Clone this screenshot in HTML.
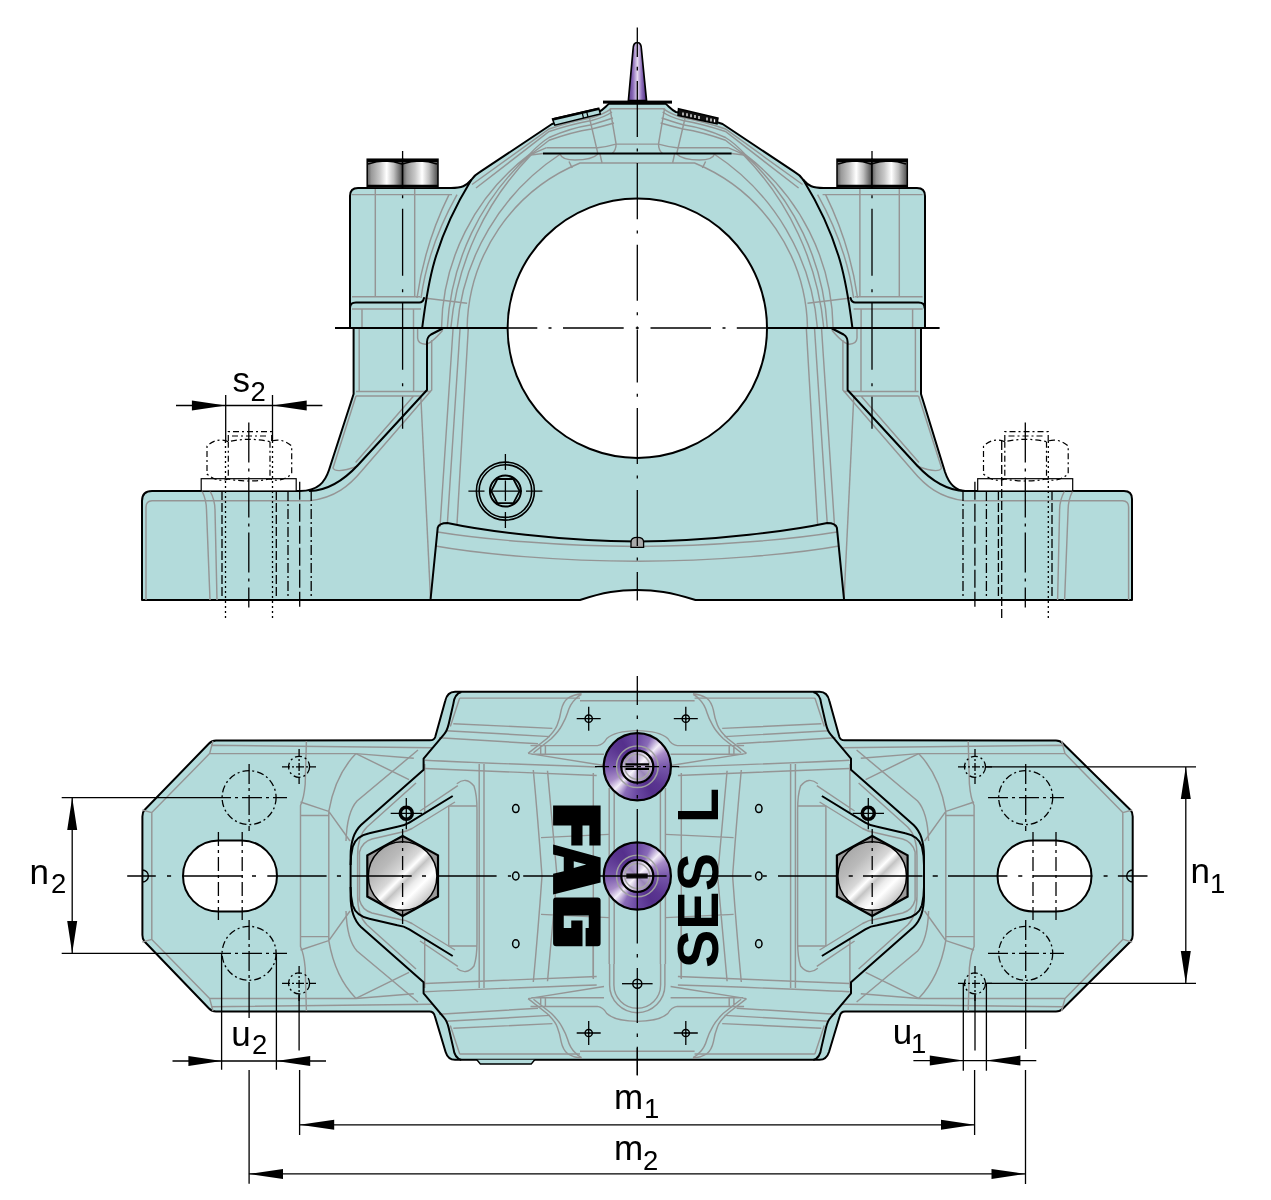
<!DOCTYPE html>
<html><head><meta charset="utf-8">
<style>
html,body{margin:0;padding:0;background:#fff;}
svg{display:block;will-change:transform;}
text{font-family:"Liberation Sans",sans-serif;}
</style></head>
<body>
<svg width="1271" height="1200" viewBox="0 0 1271 1200">
<defs>
<linearGradient id="cyl" x1="0" x2="1" y1="0" y2="0">
<stop offset="0" stop-color="#5e5e5e"/><stop offset="0.12" stop-color="#9a9a9a"/><stop offset="0.35" stop-color="#c8c8c8"/><stop offset="0.55" stop-color="#ffffff"/><stop offset="0.75" stop-color="#c0c0c0"/><stop offset="1" stop-color="#4a4a4a"/>
</linearGradient>
<linearGradient id="spike" x1="0" x2="1" y1="0" y2="0">
<stop offset="0" stop-color="#5a3a8a"/><stop offset="0.25" stop-color="#8a6ab8"/><stop offset="0.5" stop-color="#e4d8f0"/><stop offset="0.75" stop-color="#8a6ab8"/><stop offset="1" stop-color="#4a2a7a"/>
</linearGradient>
</defs>

<!-- ================= TOP VIEW ================= -->
<g id="top">
<path fill="#b3dbdb" stroke="#000" stroke-width="2" stroke-linejoin="round" d="M142,600 L142,501 Q142,491 152,491 L300,491 C318,491 325,482 329,470 L353.6,394 L353.6,328 L350,328 L350,196 Q350,188 358,188 L451,188 C462,188 466,186 471.2,180 Q474,175.5 479.7,172.2 L552,124 Q575,116 598.7,112 C603,110 606,106 609,103.8 L665.6,103.8 C668.6,106 671.6,110 675.9,112 Q699.6,116 722.6,124 L794.9,172.2 Q800.6,175.5 803.4,180 C808.6,186 812.6,188 823.6,188 L917,188 Q925,188 925,196 L925,328 L921,328 L921,394 L945,472 C949,484 955,491 966,491 L1124,491 Q1132,491 1132,499 L1132,600 L695.5,600 C670,592 655,590 637,590 C619,590 604,592 580,600 Z"/>
<circle cx="637.3" cy="328.2" r="129.7" fill="#fff" stroke="#000" stroke-width="2"/>
</g>

<!-- top gray lines (left half, mirrored) -->
<g id="tgray" fill="none" stroke="#959595" stroke-width="1.45">
<path d="M352,194.6 L452,194.6"/>
<path d="M375.3,189 V297 M362,309 V328 M414.7,189 V297 M413.5,309 V328"/>
<path d="M457,194.6 C440,225 426,262 421,298 M449,194.6 C434,225 422,262 417,298"/>
<path d="M352,296.8 H420 M352,309 H421"/>
<path d="M424,298 L467.1,303.2"/>
<path d="M441.5,328 A221.7,221.7 0 0 1 528.6,155.2 M447.3,328 A253.1,253.1 0 0 1 530,154.5 M450.8,328 A285.6,285.6 0 0 1 532,154 M457.2,328 A230,230 0 0 1 560.5,154 M467.1,328 A181.9,181.9 0 0 1 580,163 H637.3"/>
<path d="M472,184.5 L549.1,129 Q572,121 591.6,117.7 Q604,114 611,108.8 M476,188 L549.1,131.5 Q572,124 591.6,120.5 Q605,117 612,112 M528.6,155.2 Q540,143 549.1,137.5 Q570,128 591.6,124.7 Q604,121 613,118 M530,155 Q542,146 549.1,140.3 Q572,132 591.6,129 Q604,126 614,123"/>
<path d="M610,108.8 H637.3 M589.5,118 L597.7,152.8 M610,108.3 L616.1,144.1 Q616,151 612,153.5 M616,144.1 H637.3 M546.6,147.7 L597.7,147.7 Q606,147 616,144.1"/>
<path d="M528.7,155.3 L546.6,147.7 M528.7,155.3 L543,153.5"/>
<path d="M560,154 Q562,160 575,160 Q592,160 598,154 M569,161.5 L572.2,168 M600,154 L602,163"/>
<path d="M359.2,328 V391.4 M356,391.4 H431 M356,396 H421 M413.6,328 V391.4 M413.6,396 L355.6,462.6 M417.6,328 V338 Q418,344 425.2,344.2 Q431,344 442.7,330.2"/>
<path d="M431.7,340 V390 L361.6,471 C350,485 335,498 309.7,500.7 L152,500.7 Q146,501 146,507 V600"/>
<path d="M356,396 L333,468 Q336,474 358,466"/>
<path d="M420.8,396 L430.5,598"/>
<path d="M453.1,328 L440,527 M460.1,328 L447.4,523 M468.3,328 L457,524"/>
<path d="M437.7,532 C480,539 560,546.4 637.3,546.4 M435.5,546 C480,554 560,561.2 637.3,561.2"/>
<path d="M202,491 Q206.5,500 206.5,510 L210,600 M210,491 Q215,500 215,510 L217,600"/>
</g>
<use href="#tgray" transform="translate(1274.6,0) scale(-1,1)"/>

<!-- top black detail lines -->
<g id="tblack" fill="none" stroke="#000" stroke-width="2" stroke-linejoin="round" stroke-linecap="round">
<path d="M422.2,328 C427.4,288 432.2,243.75 471.2,180"/>
<path d="M350,308 Q350,302.6 356,302.6 L419.3,302.6 Q423,302.6 424,298"/>
<path d="M442.6,328.5 L431,334.5 Q427,337 427,342 L427,390 L358,465 C345,479 330,490.5 309.7,491"/>
<path d="M430.5,600 L437.7,527.8 Q439,523 447.4,523 C480,530 560,541.4 637.3,541.4"/>
</g>
<use href="#tblack" transform="translate(1274.6,0) scale(-1,1)"/>
<path d="M631,547.4 L631,542 Q631,537.4 637.3,537.4 Q643.6,537.4 643.6,542 L643.6,547.4 Z" fill="#a9a9a9" stroke="#000" stroke-width="1.3"/>

<!-- split line -->
<path d="M335,328 H508 M766.6,328 H939.6" stroke="#000" stroke-width="1.8" fill="none"/>

<!-- spike + plate -->
<path d="M628.4,100.5 L633,50 Q633,42.5 637.3,42.5 Q641.5,42.5 641.5,50 L646.5,100.5 Z" fill="url(#spike)" stroke="#000" stroke-width="1.7"/>
<rect x="603" y="100.6" width="69" height="3" fill="#000"/>

<!-- centerlines -->
<g fill="none" stroke="#000" stroke-width="1.3">
<path d="M637.3,27.5 V56.9 M637.3,66.8 V70.4 M637.3,81 V137 M637.3,148.5 V151.5 M637.3,163 V219.2 M637.3,230.5 V233.5 M637.3,244.8 V300.8 M637.3,312.2 V315.2 M637.3,326.5 V329.5 M637.3,330 V382.5 M637.3,393.8 V396.8 M637.3,408 V464 M637.3,475.5 V478.5 M637.3,490.0 V546.0 M637.3,557.5 V560.5 M637.3,572.0 V600.5"/>
<path d="M508,328 H537.3 M548.5,328 H551.5 M563,328 H623.7 M635.8,328 H638.8 M650.5,328 H711 M722.5,328 H725.5 M736.8,328 H766.6"/>
<path d="M402.6,151 V188 M402.6,195.25 V198.25 M402.6,208.75 V275.75 M402.6,289.25 V292.25 M402.6,302.75 V369.75 M402.6,383.25 V386.25 M402.6,396.75 V428.7"/>
<path d="M872,151 V188 M872,195.25 V198.25 M872,208.75 V275.75 M872,289.25 V292.25 M872,302.75 V369.75 M872,383.25 V386.25 M872,396.75 V428.7"/>
</g>

<!-- bolt heads on cap -->
<g stroke="#000">
<rect x="367.2" y="159.2" width="35.4" height="28.7" fill="url(#cyl)" stroke-width="1.5"/>
<rect x="402.6" y="159.2" width="35.4" height="28.7" fill="url(#cyl)" stroke-width="1.5"/>
<rect x="837" y="159.2" width="35" height="28.7" fill="url(#cyl)" stroke-width="1.5"/>
<rect x="872" y="159.2" width="35.3" height="28.7" fill="url(#cyl)" stroke-width="1.5"/>
<path d="M367.2,160.5 H438 M837,160.5 H907.3" stroke-width="3"/>
<path d="M368,164 Q385,158 402,164 Q420,158 437,164 M838,164 Q855,158 871,164 Q889,158 906,164" fill="none" stroke-width="1.5"/>
<path d="M367.2,186 H438 M837,186 H907.3" stroke-width="2.5"/>
</g>

<!-- label plates -->
<path d="M552.5,119 L598.8,108.3 L600.3,113.9 L554.8,125.2 Z" fill="#b3dbdb" stroke="#000" stroke-width="1.5"/>
<path d="M552.5,119.5 L598.8,108.8" stroke="#000" stroke-width="2.5"/>
<path d="M582,112 L583.5,118 M586.5,111 L588,117" stroke="#000" stroke-width="1.2"/>
<path d="M678.5,108.7 L718,118 L717,123.8 L678,115.3 Z" fill="#111" stroke="#000" stroke-width="1.5"/>
<path d="M683,112.5 l0,3 M687,113.3 l0,3 M691,114.2 l0,3 M695,115 l0,3 M699,115.9 l0,3 M707,117.5 l0,3 M711,118.4 l0,3 M714.5,119.2 l0,3" stroke="#fff" stroke-width="1.3"/>

<!-- hex socket bolt -->
<g fill="none" stroke="#000">
<circle cx="505.4" cy="491.1" r="29" stroke-width="1.6"/>
<circle cx="505.4" cy="491.1" r="26.3" stroke-width="1.6"/>
<circle cx="505.4" cy="491.1" r="15.5" stroke-width="2"/>
<path d="M491.2,491.1 L497.4,479 L513.4,479 L519.6,491.1 L513.4,503.2 L497.4,503.2 Z" stroke-width="1.8"/>
<path d="M468.4,491.1 H484.5 M489,491.1 H522 M526,491.1 H542.4 M505.4,454 V470 M505.4,480.5 V501 M505.4,512 V528" stroke-width="1.3"/>
</g>

<!-- top horizontal black line under dome -->
<path d="M543,153.5 H731.6" stroke="#000" stroke-width="2" fill="none"/>

<!-- nuts & washers (dashed) -->
<g id="nutL" fill="none" stroke="#000" stroke-width="1.2">
<rect x="201.2" y="478.7" width="95" height="12.3" fill="#fff"/>
<path d="M228.3,441.7 Q217,437 207,446 V474 Q217,483 228.3,479 Q249,483 270,479 Q281,483 291.7,474 V446 Q281,437 270,441.7 Q249,437 228.3,441.7 Z M228.3,441.7 V479 M270,441.7 V479" stroke-dasharray="6 3 2 3"/>
<path d="M228.3,441 V431.7 H271.7 V441 M232,436 H268" stroke-dasharray="6 3 2 3"/>
</g>
<use href="#nutL" transform="translate(776.5,0)"/>
<g fill="none" stroke="#000" stroke-width="1.3">
<path d="M222,491 V600" stroke-dasharray="9 3"/>
<path d="M225.5,441 V620" stroke-dasharray="2 3"/>
<path d="M248.8,422.5 V607.5" stroke-dasharray="40 6 3 6"/>
<path d="M272.5,441 V620" stroke-dasharray="2 3"/>
<path d="M276.3,491 V600" stroke-dasharray="9 3"/>
<path d="M288,491 V600" stroke-dasharray="10 3 2 3"/>
<path d="M299.7,481.7 V606.7" stroke-dasharray="18 4"/>
<path d="M311.2,491 V600" stroke-dasharray="10 3 2 3"/>
<path d="M963,491 V600" stroke-dasharray="10 3 2 3"/>
<path d="M974.9,481.7 V606.7" stroke-dasharray="18 4"/>
<path d="M986.4,491 V600" stroke-dasharray="10 3 2 3"/>
<path d="M998.4,491 V600" stroke-dasharray="9 3"/>
<path d="M1001.7,441 V620" stroke-dasharray="9 3"/>
<path d="M1025.3,422.5 V607.5" stroke-dasharray="40 6 3 6"/>
<path d="M1048.3,441 V620" stroke-dasharray="2 3"/>
<path d="M1052,491 V600" stroke-dasharray="9 3"/>
</g>
<!-- right base gray lines -->


<!-- s2 dimension -->
<g stroke="#000" stroke-width="1.3" fill="none">
<path d="M225.7,395 V441 M272.5,395 V441 M176,405.5 H322.4"/>
</g>
<path d="M225.7,405.5 L191.9,400.5 L191.9,410.5 Z M272.5,405.5 L306.7,400.5 L306.7,410.5 Z" fill="#000"/>
<text x="232.5" y="391.5" font-size="35" fill="#000">s</text>
<text x="250.5" y="400.5" font-size="27.5" fill="#000">2</text>

<!-- ================= BOTTOM VIEW ================= -->
<defs>
<linearGradient id="silver" x1="0" y1="0" x2="1" y2="1">
<stop offset="0" stop-color="#9a9a9a"/><stop offset="0.3" stop-color="#bababa"/><stop offset="0.44" stop-color="#d8d8d8"/><stop offset="0.5" stop-color="#ffffff"/><stop offset="0.56" stop-color="#c4c4c4"/><stop offset="0.63" stop-color="#ececec"/><stop offset="0.7" stop-color="#ffffff"/><stop offset="0.85" stop-color="#c6c6c6"/><stop offset="1" stop-color="#7e7e7e"/>
</linearGradient>
<linearGradient id="purple" x1="1" y1="0" x2="0" y2="1">
<stop offset="0" stop-color="#55308c"/><stop offset="0.18" stop-color="#6a48a4"/><stop offset="0.27" stop-color="#e8def4"/><stop offset="0.34" stop-color="#7a5cb0"/><stop offset="0.5" stop-color="#5a3592"/><stop offset="0.66" stop-color="#7a5cb0"/><stop offset="0.73" stop-color="#e8def4"/><stop offset="0.82" stop-color="#6a48a4"/><stop offset="1" stop-color="#55308c"/>
</linearGradient>
<linearGradient id="pinner" x1="1" y1="0" x2="0" y2="1">
<stop offset="0" stop-color="#9a8aaa"/><stop offset="0.45" stop-color="#f4f0f8"/><stop offset="0.55" stop-color="#c8bcd6"/><stop offset="1" stop-color="#8a7a9a"/>
</linearGradient>
</defs>
<g id="bottom">
<path fill="#b3dbdb" stroke="#000" stroke-width="2" stroke-linejoin="round" d="M216,740.5 L430,740.3 C433,740.3 434.5,739 435.2,737 L445.2,701 C446.5,695 449.5,691.7 455,691.7 L819.6,691.7 C825.1,691.7 828.1,695 829.4,701 L839.4,737 C840.1,739 841.6,740.3 844.6,740.3 L1056,740.5 C1059,740.5 1061,741.5 1063,743.5 L1130.5,810 C1132,811.5 1132.7,813.5 1132.7,816.5 L1132.7,935 C1132.7,938 1132,940 1130.5,941.5 L1063,1008.5 C1061,1010.5 1059,1011.5 1056,1011.5 L845,1011.5 C842,1011.5 840.5,1013 839.8,1016 L829,1052 C827.5,1056.5 824.5,1059.8 819.6,1059.8 L455,1059.8 C450,1059.8 447,1056.5 445.6,1052 L434.8,1016 C434,1013 432.5,1011.5 429.5,1011.5 L216,1011.5 C213,1011.5 211,1010.5 209,1008.5 L144.5,941.5 C143,940 142.4,938 142.4,935 L142.4,816.5 C142.4,813.5 143,811.5 144.5,810 L209,743.5 C211,741.5 213,740.5 216,740.5 Z"/>
<path d="M476.9,1059.8 L480.4,1064.1 L531.2,1064.1 L534.7,1059.8" fill="#b3dbdb" stroke="#000" stroke-width="1.5"/>

<!-- quadrant gray lines -->
<g id="bq" fill="none" stroke="#959595" stroke-width="1.45">
<path d="M211,745.3 L432.6,747.7 M209.6,753.6 L356,753.6 L413.8,758.3 M209.6,753.6 L151.8,812.6 V876 M209.6,753.6 L213,741 M151.8,812.6 L142.4,810"/>
<path d="M306.4,741 L305.2,784 Q304,798 300.5,805.5 V876 M300.5,802 L328.8,811.4 V876 M300.5,815.4 H328.8 M356,753.6 Q335,775 328.8,811.4 M356,753.6 L409,779.6 M328.8,811.4 L350,841"/>
<path d="M459.7,698.1 H580 M459.7,698.1 L450.3,726.4 M453.3,723.7 L552.4,728.4 M446,730.7 L550,736.6 M439,737.8 L538,743.7"/>
<path d="M528.1,753.4 L547,738.5 Q555,731 557.2,725.1 Q560,718 561.2,710.2 Q563,702 568,698 Q573.8,694.5 581.6,693.7 M533.5,752.7 L551.5,738.5 Q559,731 562,725.1 Q566,718 567.5,713 Q570,704 575.3,699.2 Q578,696 581.6,694.4 M531.3,754.2 H604 M528.1,753.4 L604,765.5 M540.7,745.6 V754.2 M545.4,745.6 V754.2 M580,700.7 H637.3"/>
<path d="M425,760.2 Q480,763 596.7,767 M425,768.5 Q480,771 596.7,775.5"/>
<path d="M479.2,764 V876 M484,764 V876 M533.3,770 Q538,820 542,876 M547.5,770.7 Q552,820 557,876 M541,837.6 L609,834.4"/>
<path d="M593.3,773 V876 M609.2,788 V876 M614.2,788 V876"/>
<path d="M456.8,783.8 Q466,776 474,786 Q477,795 477,810 V876 M448.7,806 V876 M448.3,806 H476.6 M424.7,764 V812 M457.8,785.6 L420,811"/>
<path d="M416,783 L367,827 Q357.6,836 357.6,856 V876 M455,802 L412,828.5 Q406,832 399,832.7 L372,839 Q362,842 359.5,852 V876"/>
<path d="M418,750 L357,801 Q347,812 346,841"/>
<path d="M530.5,745.6 H597.4 Q603,745 606.8,738.5 Q615,731 637.3,730.6"/>
</g>
<use href="#bq" transform="translate(1274.6,0) scale(-1,1)"/>
<use href="#bq" transform="translate(0,1752) scale(1,-1)"/>
<use href="#bq" transform="translate(1274.6,1752) scale(-1,-1)"/>

<path d="M613.9,964 V985 A23.35,23.35 0 0 0 660.6,985 V964 M609.6,964 V985 A27.65,27.65 0 0 0 664.9,985 V964 M593.3,900 V978 M681.3,900 V978" fill="none" stroke="#959595" stroke-width="1.45"/>
<path d="M142.4,870 A6,6 0 0 1 142.4,882 M1132.7,870 A6,6 0 0 0 1132.7,882" fill="none" stroke="#000" stroke-width="1.4"/>
<!-- black pocket lines -->
<g id="pk" fill="none" stroke="#000" stroke-width="2" stroke-linejoin="round">
<path d="M461.3,692 Q454.5,694 453.4,703.6 L448.7,724 Q447,731 444,734.3 L423.6,758.7 V769.7 L361,825 Q350.6,835 350.6,856 V876"/>
<path d="M452.7,796 L409.3,822.7 Q404,826 397.3,826.7 L369.3,833.3 Q356,836 352.7,846.7 Q350.6,855 350.6,865"/>
</g>
<use href="#pk" transform="translate(1274.6,0) scale(-1,1)"/>
<use href="#pk" transform="translate(0,1752) scale(1,-1)"/>
<use href="#pk" transform="translate(1274.6,1752) scale(-1,-1)"/>

<!-- slots -->
<path d="M218.5,840.5 H241.5 A35.5,35.5 0 0 1 241.5,911.5 H218.5 A35.5,35.5 0 0 1 218.5,840.5 Z" fill="#fff" stroke="#000" stroke-width="2"/>
<path d="M1033,840.5 H1056 A35.5,35.5 0 0 1 1056,911.5 H1033 A35.5,35.5 0 0 1 1033,840.5 Z" fill="#fff" stroke="#000" stroke-width="2"/>

<!-- dashed bolt holes -->
<g fill="none" stroke="#000" stroke-width="1.3">
<g stroke-dasharray="7 3 2 3">
<circle cx="249.1" cy="797.6" r="27"/><circle cx="249.1" cy="953.3" r="27"/>
<circle cx="1025.7" cy="797.6" r="27"/><circle cx="1025.7" cy="953.3" r="27"/>
<circle cx="299.1" cy="766.8" r="10.5"/><circle cx="299.1" cy="983.4" r="10.5"/>
<circle cx="975" cy="766.8" r="10.5"/><circle cx="975" cy="983.4" r="10.5"/>
</g>
</g>

<!-- hex bolts -->
<g id="hexb">
<path d="M402.6,836 L438,855.3 L438,896.5 L402.6,916 L367.3,896.5 L367.3,855.3 Z" fill="#9a9a9a" stroke="#000" stroke-width="2.2"/>
<circle cx="402.6" cy="876" r="34.3" fill="url(#silver)" stroke="#000" stroke-width="1.5"/>
</g>
<use href="#hexb" transform="translate(469.6,0)"/>

<!-- black rings -->
<circle cx="406.3" cy="813.3" r="6" fill="none" stroke="#000" stroke-width="3.5"/>
<circle cx="868.3" cy="813.3" r="6" fill="none" stroke="#000" stroke-width="3.5"/>

<!-- small o circles and crosshair circles -->
<g fill="none" stroke="#000" stroke-width="1.5">
<ellipse cx="515.8" cy="808.6" rx="3.2" ry="4"/><ellipse cx="515.8" cy="876" rx="3.2" ry="4"/><ellipse cx="515.8" cy="943.7" rx="3.2" ry="4"/>
<ellipse cx="758.8" cy="808.6" rx="3.2" ry="4"/><ellipse cx="758.8" cy="876" rx="3.2" ry="4"/><ellipse cx="758.8" cy="943.7" rx="3.2" ry="4"/>
<circle cx="588.7" cy="718.7" r="3.6"/><circle cx="685.8" cy="718.7" r="3.6"/>
<circle cx="588.7" cy="1033" r="3.6"/><circle cx="685.8" cy="1033" r="3.6"/>
<circle cx="637.3" cy="983.7" r="4.5"/>
</g>
<g fill="#000"><circle cx="588.7" cy="718.7" r="1.1"/><circle cx="685.8" cy="718.7" r="1.1"/><circle cx="588.7" cy="1033" r="1.1"/><circle cx="685.8" cy="1033" r="1.1"/></g>
<g fill="none" stroke="#000" stroke-width="1.3">
<path d="M576.7,718.7 H600.7 M588.7,706.7 V730.7 M673.8,718.7 H697.8 M685.8,706.7 V730.7"/>
<path d="M576.7,1033 H600.7 M588.7,1021 V1045 M673.8,1033 H697.8 M685.8,1021 V1045"/>
<path d="M622,983.7 H652.6"/>
<path d="M390.7,813.3 H422 M406.3,798 V829.3 M852.7,813.3 H884 M868.3,798 V829.3"/>
</g>

<!-- nipples -->
<foreignObject x="603.3" y="732.7" width="68" height="68"><div style="width:68px;height:68px;border-radius:50%;background:conic-gradient(from 0deg, #6a48a2 0deg, #8a6cb8 25deg, #f2ecf8 45deg, #a88cc8 62deg, #7656aa 90deg, #5a3590 130deg, #55308c 150deg, #6a48a2 180deg, #8a6cb8 205deg, #f2ecf8 225deg, #a88cc8 242deg, #7656aa 270deg, #5a3590 310deg, #55308c 330deg, #6a48a2 360deg);"></div></foreignObject>
<circle cx="637.3" cy="766.7" r="33.6" fill="none" stroke="#000" stroke-width="2.2"/>
<circle cx="637.3" cy="766.7" r="20.8" fill="none" stroke="#a0a0a0" stroke-width="1.5"/>
<foreignObject x="621.3" y="750.7" width="32" height="32"><div style="width:32px;height:32px;border-radius:50%;background:conic-gradient(from 0deg, #b8a8d0 0deg, #f8f4fc 45deg, #c4b4dc 90deg, #9a86b8 135deg, #b8a8d0 180deg, #f8f4fc 225deg, #c4b4dc 270deg, #9a86b8 315deg, #b8a8d0 360deg);"></div></foreignObject>
<circle cx="637.3" cy="766.7" r="16" fill="none" stroke="#000" stroke-width="2.2"/>
<circle cx="637.3" cy="766.7" r="12.5" fill="none" stroke="#a8a8a8" stroke-width="1.5"/>
<foreignObject x="603.3" y="842.0" width="68" height="68"><div style="width:68px;height:68px;border-radius:50%;background:conic-gradient(from 0deg, #6a48a2 0deg, #8a6cb8 25deg, #f2ecf8 45deg, #a88cc8 62deg, #7656aa 90deg, #5a3590 130deg, #55308c 150deg, #6a48a2 180deg, #8a6cb8 205deg, #f2ecf8 225deg, #a88cc8 242deg, #7656aa 270deg, #5a3590 310deg, #55308c 330deg, #6a48a2 360deg);"></div></foreignObject>
<circle cx="637.3" cy="876.0" r="33.6" fill="none" stroke="#000" stroke-width="2.2"/>
<circle cx="637.3" cy="876.0" r="20.8" fill="none" stroke="#a0a0a0" stroke-width="1.5"/>
<foreignObject x="621.3" y="860.0" width="32" height="32"><div style="width:32px;height:32px;border-radius:50%;background:conic-gradient(from 0deg, #b8a8d0 0deg, #f8f4fc 45deg, #c4b4dc 90deg, #9a86b8 135deg, #b8a8d0 180deg, #f8f4fc 225deg, #c4b4dc 270deg, #9a86b8 315deg, #b8a8d0 360deg);"></div></foreignObject>
<circle cx="637.3" cy="876.0" r="16" fill="none" stroke="#000" stroke-width="2.2"/>
<circle cx="637.3" cy="876.0" r="12.5" fill="none" stroke="#a8a8a8" stroke-width="1.5"/>

<path d="M625.5,764.4 H649 M625.5,768.9 H649" stroke="#000" stroke-width="2.2"/>
<path d="M595,766.7 H679.2" stroke="#000" stroke-width="1.3" stroke-dasharray="14 4 3 4" fill="none"/>
<path d="M626.3,876 H647.7" stroke="#111" stroke-width="5"/>
</g>

<!-- bottom view centerlines -->
<g fill="none" stroke="#000" stroke-width="1.3">
<path d="M127.2,876 H155.8 M167,876 H171.1 M182.4,876 H242.7 M252,876 H256 M267.3,876 H326.6 M336.9,876 H341 M351.2,876 H411.7 M422,876 H426 M438.3,876 H496.6 M507.9,876 H511 M523.2,876 H666.6 M693.2,876 H751.5 M762.7,876 H766.8 M778,876 H836.4 M848.7,876 H852.8 M863,876 H922.5 M932.7,876 H937.8 M948,876 H1007.4 M1018.2,876 H1022.3 M1033,876 H1092.3 M1103.6,876 H1107.6 M1117.9,876 H1147.5"/>
<path d="M637.3,676.1 V705 M637.3,715.5 V719 M637.3,729.5 V784.6 M637.3,795 V798.6 M637.3,809 V943.5 M637.3,954 V957.5 M637.3,968 V1023 M637.3,1033.6 V1037.1 M637.3,1046.8 V1075.6"/>
<path d="M249.1,764 V831 M249.1,920 V987" stroke-dasharray="20 4 3 4"/>
<path d="M218.4,832 V920 M242.2,832 V920 M1033,832 V920 M1056,832 V920" stroke-dasharray="14 4 3 4"/>
<path d="M1025.7,764 V831 M1025.7,920 V987" stroke-dasharray="20 4 3 4"/>
<path d="M211,797.6 H287 M211,953.3 H287 M988,797.6 H1064 M988,953.3 H1064" stroke-dasharray="20 4 3 4"/>
<path d="M282,766.8 H316 M299.1,749 V784 M282,983.4 H316 M299.1,966 V1001 M958,766.8 H992 M975,749 V784 M958,983.4 H992 M975,966 V1001" stroke-dasharray="8 2 2 2"/>
<path d="M402.6,829 V924 M872.2,829 V924" stroke-dasharray="14 5 3 5"/>
</g>

<!-- dimensions bottom -->
<g fill="none" stroke="#000" stroke-width="1.3">
<path d="M61.7,797.6 H211 M61.7,953.3 H211 M72.2,797.6 V953.3"/>
<path d="M985.5,766.8 H1196 M985.5,983.4 H1196 M1185.8,766.8 V983.4"/>
<path d="M221.6,953.3 V1069.8 M276.4,953.3 V1069.8 M172.5,1061 H326"/>
<path d="M963.3,983.4 V1070.7 M986.4,983.4 V1070.7 M913.4,1060.6 H1036.3"/>
<path d="M249.1,987 V1018 M299.1,995 V1050.5 M975,995 V1050.5 M1025.7,987 V1049 M249.1,1070 V1183.7 M299.6,1070 V1135 M974.6,1070 V1135 M1025.5,1070 V1184"/>
<path d="M299.6,1124.8 H974.6 M248.9,1173.9 H1025.5"/>
<path d="M637.3,1048 V1075"/>
</g>
<g fill="#000">
<path d="M72.2,797.6 L67.2,830 L77.2,830 Z M72.2,953.3 L67.2,921 L77.2,921 Z"/>
<path d="M1185.8,766.8 L1180.8,799 L1190.8,799 Z M1185.8,983.4 L1180.8,951 L1190.8,951 Z"/>
<path d="M221.6,1061 L188.4,1056 L188.4,1066 Z M276.4,1061 L310.2,1056 L310.2,1066 Z"/>
<path d="M963.3,1060.6 L929.8,1055.6 L929.8,1065.6 Z M986.4,1060.6 L1020.4,1055.6 L1020.4,1065.6 Z"/>
<path d="M299.6,1124.8 L334.2,1119.8 L334.2,1129.8 Z M974.6,1124.8 L941,1119.8 L941,1129.8 Z"/>
<path d="M248.9,1173.9 L283,1168.9 L283,1178.9 Z M1025.5,1173.9 L991.5,1168.9 L991.5,1178.9 Z"/>
</g>
<g fill="#000" font-size="35">
<text x="29.5" y="883.9">n</text><text x="51" y="893.2" font-size="27.5">2</text>
<text x="1190.5" y="883">n</text><text x="1210" y="892.5" font-size="27.5">1</text>
<text x="231.3" y="1045.5">u</text><text x="252" y="1053.7" font-size="27.5">2</text>
<text x="892.7" y="1044">u</text><text x="911" y="1052.8" font-size="27.5">1</text>
<text x="614" y="1108.8">m</text><text x="644" y="1117.5" font-size="27.5">1</text>
<text x="614" y="1160">m</text><text x="643" y="1169.8" font-size="27.5">2</text>
</g>
<!-- logo text -->
<g fill="#000">
<path d="M553.1,805.6 H600.6 V845.6 H589.4 V825.6 H582.5 V845.6 H571.3 V825.6 H553.1 Z"/>
<path d="M553.1,844.4 L600.6,857.5 V882.5 L553.1,894.4 V873.75 L563.75,871.25 V856.9 L553.1,854.4 Z M573.75,861.25 L586.25,864.4 L573.75,868.1 Z" fill-rule="evenodd"/>
<path d="M556.1,897.5 H597.6 Q600.6,897.5 600.6,900.5 V943.25 Q600.6,946.25 597.6,946.25 H585.6 V928.1 H588.75 V915.6 H563.75 V928.1 H571.25 V920.6 H582.5 V946.25 H556.1 Q553.1,946.25 553.1,943.25 V900.5 Q553.1,897.5 556.1,897.5 Z"/>
</g>
<text transform="translate(718.3,968) rotate(-90)" font-size="57.5" font-weight="bold" fill="#000">SES</text>
<text transform="translate(718.3,823) rotate(-90)" font-size="57.5" font-weight="bold" fill="#000">L</text>
</svg>
</body></html>
